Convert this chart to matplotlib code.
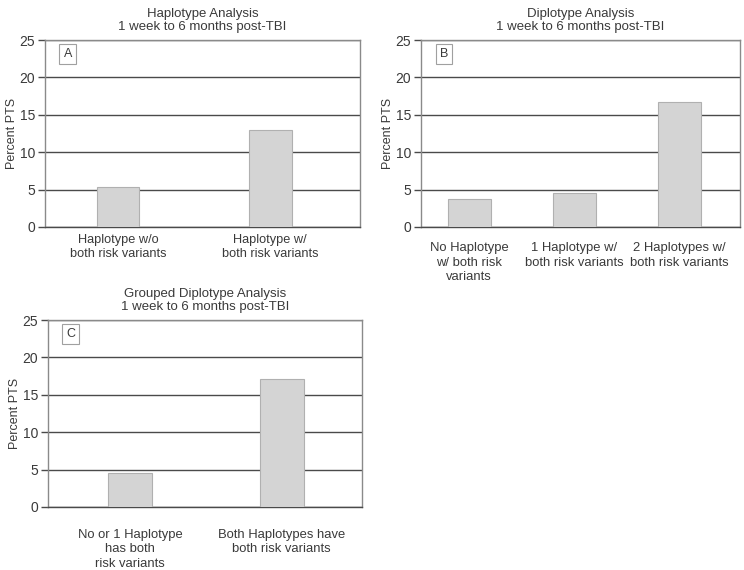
import numpy as np
import matplotlib.pyplot as plt
import matplotlib

matplotlib.rcParams['font.family'] = ['Liberation Sans', 'DejaVu Sans']

# data
labels_a = ["Haplotype w/o\nboth risk variants", "Haplotype w/\nboth risk variants"]
values_a = [5.3, 13.0]

labels_b = ["No Haplotype\nw/ both risk\nvariants", "1 Haplotype w/\nboth risk variants",
            "2 Haplotypes w/\nboth risk variants"]
values_b = [3.8, 4.6, 16.7]

labels_c = ["No or 1 Haplotype\nhas both\nrisk variants",
            "Both Haplotypes have\nboth risk variants"]
values_c = [4.5, 17.1]

titles = ["Haplotype Analysis\n1 week to 6 months post-TBI",
          "Diplotype Analysis\n1 week to 6 months post-TBI",
          "Grouped Diplotype Analysis\n1 week to 6 months post-TBI"]
letters = ["A", "B", "C"]

text_color = "#3a3a3a"
bar_color = "#d4d4d4"
W, H = 744, 570


def make_axes(fig, left, right, top, bottom):
    return fig.add_axes([left / W, (H - bottom) / H, (right - left) / W, (bottom - top) / H])


def draw_panel(ax, labels, values, title, letter, xlim, bar_width, xpad, xsize):
    x = np.arange(len(values))
    ax.bar(x, values, width=bar_width, color=bar_color, edgecolor="#b0b0b0",
           linewidth=0.8, zorder=3)
    ax.set_xlim(*xlim)
    ax.set_ylim(0, 25)
    ax.set_yticks(np.arange(0, 26, 5))
    ax.set_xticks(x, labels)
    ax.yaxis.grid(True, color="#4a4a4a", linewidth=1.0, zorder=1)
    ax.set_axisbelow(True)
    for s in ax.spines.values():
        s.set_color("#8a8a8a")
        s.set_linewidth(1.0)
    ax.spines['bottom'].set_color("#4a4a4a")
    ax.tick_params(axis="y", length=5, width=1.0, color="#4a4a4a",
                   labelsize=10, labelcolor=text_color, pad=2)
    ax.tick_params(axis="x", length=0, labelsize=xsize, labelcolor=text_color, pad=xpad)
    for t in ax.get_xticklabels():
        t.set_linespacing(1.25)
    ax.set_ylabel("Percent PTS", fontsize=9, color=text_color, labelpad=1)
    ax.set_title(title, fontsize=9.5, color=text_color, pad=7, linespacing=1.15)
    ax.text(0.072, 0.925, letter, transform=ax.transAxes, fontsize=9,
            color=text_color, ha="center", va="center",
            bbox=dict(boxstyle="square,pad=0.32", facecolor="white",
                      edgecolor="#a0a0a0", linewidth=0.8))


fig = plt.figure(figsize=(7.44, 5.70), dpi=100)

ax_a = make_axes(fig, 45, 360, 40, 227)
draw_panel(ax_a, labels_a, values_a, titles[0], letters[0], (-0.48, 1.59), 0.28, 5, 9.2)

ax_b = make_axes(fig, 421, 740, 40, 227)
draw_panel(ax_b, labels_b, values_b, titles[1], letters[1], (-0.46, 2.58), 0.41, 11, 9.4)

ax_c = make_axes(fig, 48, 362, 320, 507)
draw_panel(ax_c, labels_c, values_c, titles[2], letters[2], (-0.54, 1.53), 0.29, 16, 9.4)

fig.savefig("out.png", dpi=100)
